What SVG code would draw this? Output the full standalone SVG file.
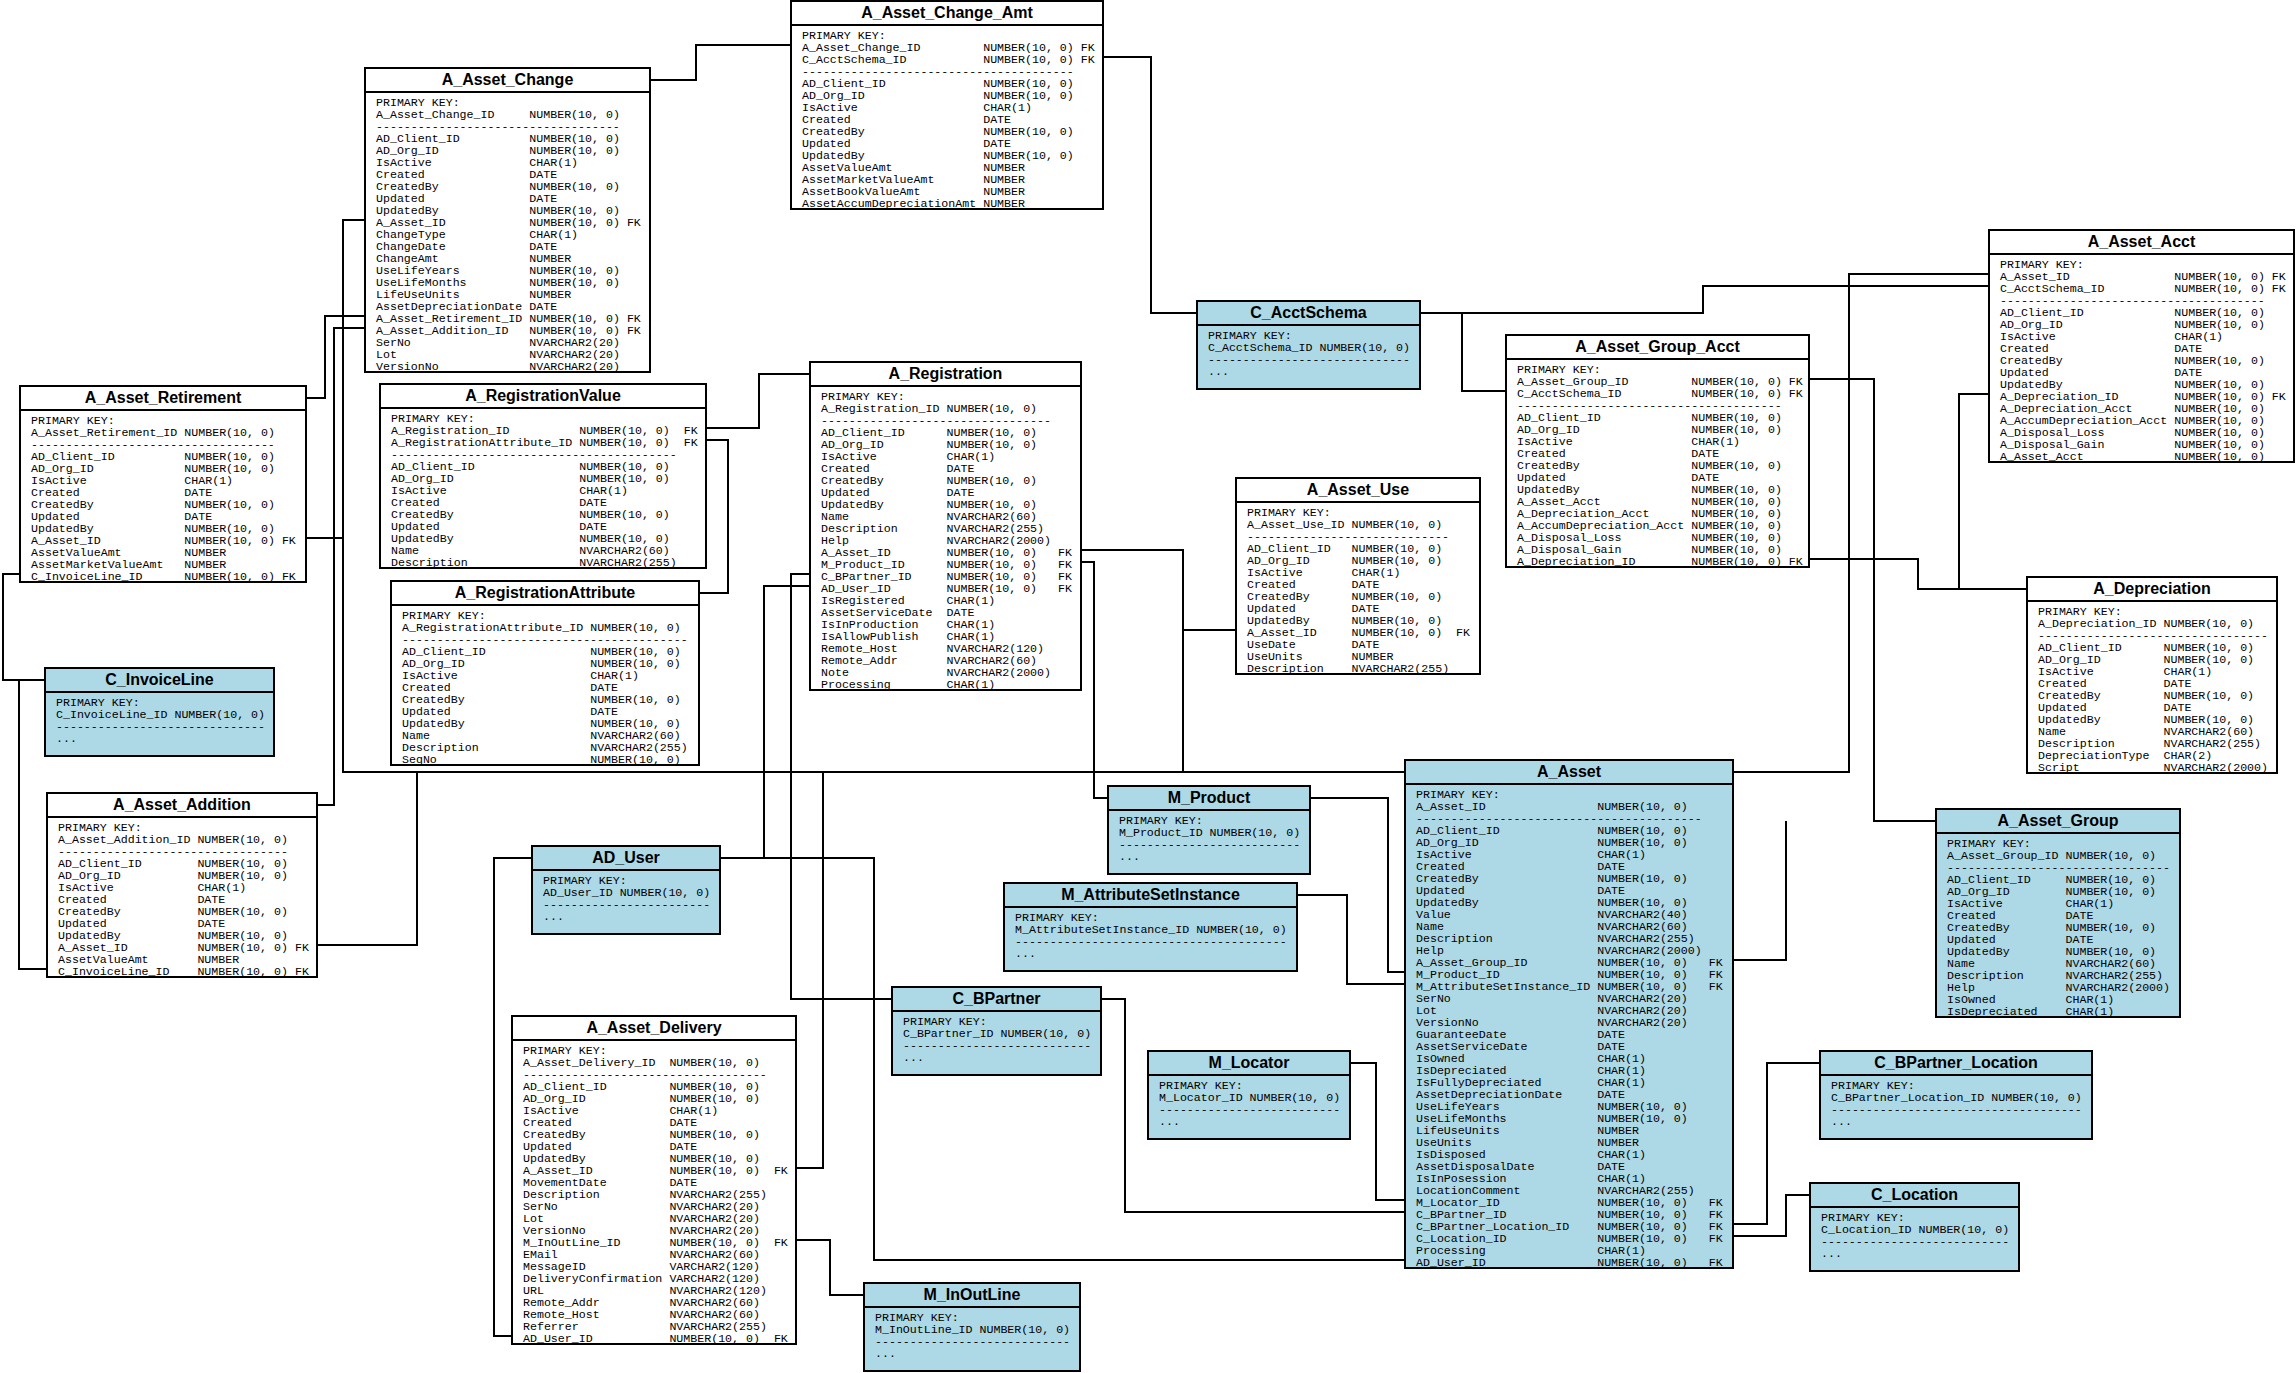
<svg xmlns="http://www.w3.org/2000/svg" width="2296" height="1373" viewBox="0 0 2296 1373">
<style>
.w{fill:#fff;stroke:#000;stroke-width:2}
.b{fill:#add8e6;stroke:#000;stroke-width:2}
.h{stroke:#000;stroke-width:2}
.t{font-family:"Liberation Sans",Arial,sans-serif;font-weight:bold;font-size:16px;text-anchor:middle;fill:#000}
.m{font-family:"Liberation Mono","Courier New",monospace;font-size:11.62px;fill:#000}
.c polyline{fill:none;stroke:#000;stroke-width:2}
</style>
<rect x="0" y="0" width="2296" height="1373" fill="#fff"/>
<g id="connectors" class="c">
<polyline points="650,80 696,80 696,45 791,45"/>
<polyline points="1103,57 1151,57 1151,313 1197,313"/>
<polyline points="1420,313 1462,313 1462,391 1506,391"/>
<polyline points="1462,313 1703,313 1703,286 1989,286"/>
<polyline points="1733,772 1849,772 1849,274 1989,274"/>
<polyline points="1989,394 1959,394 1959,589"/>
<polyline points="1809,559 1918,559 1918,589 2027,589"/>
<polyline points="1809,379 1874,379 1874,821 1936,821"/>
<polyline points="1733,960 1786,960 1786,821"/>
<polyline points="1733,1224 1767,1224 1767,1063 1820,1063"/>
<polyline points="1733,1236 1786,1236 1786,1195 1810,1195"/>
<polyline points="1405,972 1388,972 1388,798 1309,798"/>
<polyline points="1405,984 1347,984 1347,895 1296,895"/>
<polyline points="1405,1200 1376,1200 1376,1063 1349,1063"/>
<polyline points="1405,1212 1125,1212 1125,999 1101,999"/>
<polyline points="1405,1260 874,1260 874,858 720,858"/>
<polyline points="810,586 764,586 764,858"/>
<polyline points="512,1336 494,1336 494,858 532,858"/>
<polyline points="810,574 791,574 791,999 892,999"/>
<polyline points="1081,562 1094,562 1094,798 1108,798"/>
<polyline points="1081,550 1183,550 1183,772"/>
<polyline points="1236,630 1183,630"/>
<polyline points="796,1168 823,1168 823,772"/>
<polyline points="796,1240 830,1240 830,1295 864,1295"/>
<polyline points="706,428 759,428 759,374 810,374"/>
<polyline points="706,440 728,440 728,593 699,593"/>
<polyline points="365,220 343,220 343,772 1405,772"/>
<polyline points="306,538 343,538"/>
<polyline points="317,945 417,945 417,772"/>
<polyline points="306,398 325,398 325,316 365,316"/>
<polyline points="317,805 334,805 334,328 365,328"/>
<polyline points="20,574 3,574 3,680 45,680"/>
<polyline points="47,969 19,969 19,680"/>
</g>

<g id="A_Asset_Change_Amt">
<rect class="w" x="791" y="1" width="312" height="208"/>
<line class="h" x1="791" y1="25" x2="1103" y2="25"/>
<text class="t" x="947" y="18">A_Asset_Change_Amt</text>
<text class="m" x="802" y="39">PRIMARY KEY:<tspan x="802" dy="12">A_Asset_Change_ID</tspan><tspan x="802" dy="12">C_AcctSchema_ID</tspan><tspan x="802" dy="12">---------------------------------------</tspan><tspan x="802" dy="12">AD_Client_ID</tspan><tspan x="802" dy="12">AD_Org_ID</tspan><tspan x="802" dy="12">IsActive</tspan><tspan x="802" dy="12">Created</tspan><tspan x="802" dy="12">CreatedBy</tspan><tspan x="802" dy="12">Updated</tspan><tspan x="802" dy="12">UpdatedBy</tspan><tspan x="802" dy="12">AssetValueAmt</tspan><tspan x="802" dy="12">AssetMarketValueAmt</tspan><tspan x="802" dy="12">AssetBookValueAmt</tspan><tspan x="802" dy="12">AssetAccumDepreciationAmt</tspan></text>
<text class="m" x="983.2" y="51">NUMBER(10, 0)<tspan x="983.2" dy="12">NUMBER(10, 0)</tspan><tspan x="983.2" dy="24">NUMBER(10, 0)</tspan><tspan x="983.2" dy="12">NUMBER(10, 0)</tspan><tspan x="983.2" dy="12">CHAR(1)</tspan><tspan x="983.2" dy="12">DATE</tspan><tspan x="983.2" dy="12">NUMBER(10, 0)</tspan><tspan x="983.2" dy="12">DATE</tspan><tspan x="983.2" dy="12">NUMBER(10, 0)</tspan><tspan x="983.2" dy="12">NUMBER</tspan><tspan x="983.2" dy="12">NUMBER</tspan><tspan x="983.2" dy="12">NUMBER</tspan><tspan x="983.2" dy="12">NUMBER</tspan></text>
<text class="m" x="1080.8" y="51">FK<tspan x="1080.8" dy="12">FK</tspan></text>
</g>

<g id="A_Asset_Change">
<rect class="w" x="365" y="68" width="285" height="304"/>
<line class="h" x1="365" y1="92" x2="650" y2="92"/>
<text class="t" x="507.5" y="85">A_Asset_Change</text>
<text class="m" x="376" y="106">PRIMARY KEY:<tspan x="376" dy="12">A_Asset_Change_ID</tspan><tspan x="376" dy="12">-----------------------------------</tspan><tspan x="376" dy="12">AD_Client_ID</tspan><tspan x="376" dy="12">AD_Org_ID</tspan><tspan x="376" dy="12">IsActive</tspan><tspan x="376" dy="12">Created</tspan><tspan x="376" dy="12">CreatedBy</tspan><tspan x="376" dy="12">Updated</tspan><tspan x="376" dy="12">UpdatedBy</tspan><tspan x="376" dy="12">A_Asset_ID</tspan><tspan x="376" dy="12">ChangeType</tspan><tspan x="376" dy="12">ChangeDate</tspan><tspan x="376" dy="12">ChangeAmt</tspan><tspan x="376" dy="12">UseLifeYears</tspan><tspan x="376" dy="12">UseLifeMonths</tspan><tspan x="376" dy="12">LifeUseUnits</tspan><tspan x="376" dy="12">AssetDepreciationDate</tspan><tspan x="376" dy="12">A_Asset_Retirement_ID</tspan><tspan x="376" dy="12">A_Asset_Addition_ID</tspan><tspan x="376" dy="12">SerNo</tspan><tspan x="376" dy="12">Lot</tspan><tspan x="376" dy="12">VersionNo</tspan></text>
<text class="m" x="529.3" y="118">NUMBER(10, 0)<tspan x="529.3" dy="24">NUMBER(10, 0)</tspan><tspan x="529.3" dy="12">NUMBER(10, 0)</tspan><tspan x="529.3" dy="12">CHAR(1)</tspan><tspan x="529.3" dy="12">DATE</tspan><tspan x="529.3" dy="12">NUMBER(10, 0)</tspan><tspan x="529.3" dy="12">DATE</tspan><tspan x="529.3" dy="12">NUMBER(10, 0)</tspan><tspan x="529.3" dy="12">NUMBER(10, 0)</tspan><tspan x="529.3" dy="12">CHAR(1)</tspan><tspan x="529.3" dy="12">DATE</tspan><tspan x="529.3" dy="12">NUMBER</tspan><tspan x="529.3" dy="12">NUMBER(10, 0)</tspan><tspan x="529.3" dy="12">NUMBER(10, 0)</tspan><tspan x="529.3" dy="12">NUMBER</tspan><tspan x="529.3" dy="12">DATE</tspan><tspan x="529.3" dy="12">NUMBER(10, 0)</tspan><tspan x="529.3" dy="12">NUMBER(10, 0)</tspan><tspan x="529.3" dy="12">NVARCHAR2(20)</tspan><tspan x="529.3" dy="12">NVARCHAR2(20)</tspan><tspan x="529.3" dy="12">NVARCHAR2(20)</tspan></text>
<text class="m" x="626.9" y="226">FK<tspan x="626.9" y="322">FK</tspan><tspan x="626.9" y="334">FK</tspan></text>
</g>

<g id="A_Asset_Retirement">
<rect class="w" x="20" y="386" width="286" height="196"/>
<line class="h" x1="20" y1="410" x2="306" y2="410"/>
<text class="t" x="163" y="403">A_Asset_Retirement</text>
<text class="m" x="31" y="424">PRIMARY KEY:<tspan x="31" dy="12">A_Asset_Retirement_ID</tspan><tspan x="31" dy="12">-----------------------------------</tspan><tspan x="31" dy="12">AD_Client_ID</tspan><tspan x="31" dy="12">AD_Org_ID</tspan><tspan x="31" dy="12">IsActive</tspan><tspan x="31" dy="12">Created</tspan><tspan x="31" dy="12">CreatedBy</tspan><tspan x="31" dy="12">Updated</tspan><tspan x="31" dy="12">UpdatedBy</tspan><tspan x="31" dy="12">A_Asset_ID</tspan><tspan x="31" dy="12">AssetValueAmt</tspan><tspan x="31" dy="12">AssetMarketValueAmt</tspan><tspan x="31" dy="12">C_InvoiceLine_ID</tspan></text>
<text class="m" x="184.3" y="436">NUMBER(10, 0)<tspan x="184.3" dy="24">NUMBER(10, 0)</tspan><tspan x="184.3" dy="12">NUMBER(10, 0)</tspan><tspan x="184.3" dy="12">CHAR(1)</tspan><tspan x="184.3" dy="12">DATE</tspan><tspan x="184.3" dy="12">NUMBER(10, 0)</tspan><tspan x="184.3" dy="12">DATE</tspan><tspan x="184.3" dy="12">NUMBER(10, 0)</tspan><tspan x="184.3" dy="12">NUMBER(10, 0)</tspan><tspan x="184.3" dy="12">NUMBER</tspan><tspan x="184.3" dy="12">NUMBER</tspan><tspan x="184.3" dy="12">NUMBER(10, 0)</tspan></text>
<text class="m" x="281.9" y="544">FK<tspan x="281.9" y="580">FK</tspan></text>
</g>

<g id="C_InvoiceLine">
<rect class="b" x="45" y="668" width="229" height="88"/>
<line class="h" x1="45" y1="692" x2="274" y2="692"/>
<text class="t" x="159.5" y="685">C_InvoiceLine</text>
<text class="m" x="56" y="706">PRIMARY KEY:<tspan x="56" dy="12">C_InvoiceLine_ID NUMBER(10, 0)</tspan><tspan x="56" dy="12">------------------------------</tspan><tspan x="56" dy="12">...</tspan></text>
</g>

<g id="A_RegistrationValue">
<rect class="w" x="380" y="384" width="326" height="184"/>
<line class="h" x1="380" y1="408" x2="706" y2="408"/>
<text class="t" x="543" y="401">A_RegistrationValue</text>
<text class="m" x="391" y="422">PRIMARY KEY:<tspan x="391" dy="12">A_Registration_ID</tspan><tspan x="391" dy="12">A_RegistrationAttribute_ID</tspan><tspan x="391" dy="12">-----------------------------------------</tspan><tspan x="391" dy="12">AD_Client_ID</tspan><tspan x="391" dy="12">AD_Org_ID</tspan><tspan x="391" dy="12">IsActive</tspan><tspan x="391" dy="12">Created</tspan><tspan x="391" dy="12">CreatedBy</tspan><tspan x="391" dy="12">Updated</tspan><tspan x="391" dy="12">UpdatedBy</tspan><tspan x="391" dy="12">Name</tspan><tspan x="391" dy="12">Description</tspan></text>
<text class="m" x="579.2" y="434">NUMBER(10, 0)<tspan x="579.2" dy="12">NUMBER(10, 0)</tspan><tspan x="579.2" dy="24">NUMBER(10, 0)</tspan><tspan x="579.2" dy="12">NUMBER(10, 0)</tspan><tspan x="579.2" dy="12">CHAR(1)</tspan><tspan x="579.2" dy="12">DATE</tspan><tspan x="579.2" dy="12">NUMBER(10, 0)</tspan><tspan x="579.2" dy="12">DATE</tspan><tspan x="579.2" dy="12">NUMBER(10, 0)</tspan><tspan x="579.2" dy="12">NVARCHAR2(60)</tspan><tspan x="579.2" dy="12">NVARCHAR2(255)</tspan></text>
<text class="m" x="683.7" y="434">FK<tspan x="683.7" dy="12">FK</tspan></text>
</g>

<g id="A_RegistrationAttribute">
<rect class="w" x="391" y="581" width="308" height="184"/>
<line class="h" x1="391" y1="605" x2="699" y2="605"/>
<text class="t" x="545" y="598">A_RegistrationAttribute</text>
<text class="m" x="402" y="619">PRIMARY KEY:<tspan x="402" dy="12">A_RegistrationAttribute_ID</tspan><tspan x="402" dy="12">-----------------------------------------</tspan><tspan x="402" dy="12">AD_Client_ID</tspan><tspan x="402" dy="12">AD_Org_ID</tspan><tspan x="402" dy="12">IsActive</tspan><tspan x="402" dy="12">Created</tspan><tspan x="402" dy="12">CreatedBy</tspan><tspan x="402" dy="12">Updated</tspan><tspan x="402" dy="12">UpdatedBy</tspan><tspan x="402" dy="12">Name</tspan><tspan x="402" dy="12">Description</tspan><tspan x="402" dy="12">SeqNo</tspan></text>
<text class="m" x="590.2" y="631">NUMBER(10, 0)<tspan x="590.2" dy="24">NUMBER(10, 0)</tspan><tspan x="590.2" dy="12">NUMBER(10, 0)</tspan><tspan x="590.2" dy="12">CHAR(1)</tspan><tspan x="590.2" dy="12">DATE</tspan><tspan x="590.2" dy="12">NUMBER(10, 0)</tspan><tspan x="590.2" dy="12">DATE</tspan><tspan x="590.2" dy="12">NUMBER(10, 0)</tspan><tspan x="590.2" dy="12">NVARCHAR2(60)</tspan><tspan x="590.2" dy="12">NVARCHAR2(255)</tspan><tspan x="590.2" dy="12">NUMBER(10, 0)</tspan></text>
</g>

<g id="A_Registration">
<rect class="w" x="810" y="362" width="271" height="328"/>
<line class="h" x1="810" y1="386" x2="1081" y2="386"/>
<text class="t" x="945.5" y="379">A_Registration</text>
<text class="m" x="821" y="400">PRIMARY KEY:<tspan x="821" dy="12">A_Registration_ID</tspan><tspan x="821" dy="12">---------------------------------</tspan><tspan x="821" dy="12">AD_Client_ID</tspan><tspan x="821" dy="12">AD_Org_ID</tspan><tspan x="821" dy="12">IsActive</tspan><tspan x="821" dy="12">Created</tspan><tspan x="821" dy="12">CreatedBy</tspan><tspan x="821" dy="12">Updated</tspan><tspan x="821" dy="12">UpdatedBy</tspan><tspan x="821" dy="12">Name</tspan><tspan x="821" dy="12">Description</tspan><tspan x="821" dy="12">Help</tspan><tspan x="821" dy="12">A_Asset_ID</tspan><tspan x="821" dy="12">M_Product_ID</tspan><tspan x="821" dy="12">C_BPartner_ID</tspan><tspan x="821" dy="12">AD_User_ID</tspan><tspan x="821" dy="12">IsRegistered</tspan><tspan x="821" dy="12">AssetServiceDate</tspan><tspan x="821" dy="12">IsInProduction</tspan><tspan x="821" dy="12">IsAllowPublish</tspan><tspan x="821" dy="12">Remote_Host</tspan><tspan x="821" dy="12">Remote_Addr</tspan><tspan x="821" dy="12">Note</tspan><tspan x="821" dy="12">Processing</tspan></text>
<text class="m" x="946.5" y="412">NUMBER(10, 0)<tspan x="946.5" dy="24">NUMBER(10, 0)</tspan><tspan x="946.5" dy="12">NUMBER(10, 0)</tspan><tspan x="946.5" dy="12">CHAR(1)</tspan><tspan x="946.5" dy="12">DATE</tspan><tspan x="946.5" dy="12">NUMBER(10, 0)</tspan><tspan x="946.5" dy="12">DATE</tspan><tspan x="946.5" dy="12">NUMBER(10, 0)</tspan><tspan x="946.5" dy="12">NVARCHAR2(60)</tspan><tspan x="946.5" dy="12">NVARCHAR2(255)</tspan><tspan x="946.5" dy="12">NVARCHAR2(2000)</tspan><tspan x="946.5" dy="12">NUMBER(10, 0)</tspan><tspan x="946.5" dy="12">NUMBER(10, 0)</tspan><tspan x="946.5" dy="12">NUMBER(10, 0)</tspan><tspan x="946.5" dy="12">NUMBER(10, 0)</tspan><tspan x="946.5" dy="12">CHAR(1)</tspan><tspan x="946.5" dy="12">DATE</tspan><tspan x="946.5" dy="12">CHAR(1)</tspan><tspan x="946.5" dy="12">CHAR(1)</tspan><tspan x="946.5" dy="12">NVARCHAR2(120)</tspan><tspan x="946.5" dy="12">NVARCHAR2(60)</tspan><tspan x="946.5" dy="12">NVARCHAR2(2000)</tspan><tspan x="946.5" dy="12">CHAR(1)</tspan></text>
<text class="m" x="1058" y="556">FK<tspan x="1058" dy="12">FK</tspan><tspan x="1058" dy="12">FK</tspan><tspan x="1058" dy="12">FK</tspan></text>
</g>

<g id="C_AcctSchema">
<rect class="b" x="1197" y="301" width="223" height="88"/>
<line class="h" x1="1197" y1="325" x2="1420" y2="325"/>
<text class="t" x="1308.5" y="318">C_AcctSchema</text>
<text class="m" x="1208" y="339">PRIMARY KEY:<tspan x="1208" dy="12">C_AcctSchema_ID NUMBER(10, 0)</tspan><tspan x="1208" dy="12">-----------------------------</tspan><tspan x="1208" dy="12">...</tspan></text>
</g>

<g id="A_Asset_Use">
<rect class="w" x="1236" y="478" width="244" height="196"/>
<line class="h" x1="1236" y1="502" x2="1480" y2="502"/>
<text class="t" x="1358" y="495">A_Asset_Use</text>
<text class="m" x="1247" y="516">PRIMARY KEY:<tspan x="1247" dy="12">A_Asset_Use_ID</tspan><tspan x="1247" dy="12">-----------------------------</tspan><tspan x="1247" dy="12">AD_Client_ID</tspan><tspan x="1247" dy="12">AD_Org_ID</tspan><tspan x="1247" dy="12">IsActive</tspan><tspan x="1247" dy="12">Created</tspan><tspan x="1247" dy="12">CreatedBy</tspan><tspan x="1247" dy="12">Updated</tspan><tspan x="1247" dy="12">UpdatedBy</tspan><tspan x="1247" dy="12">A_Asset_ID</tspan><tspan x="1247" dy="12">UseDate</tspan><tspan x="1247" dy="12">UseUnits</tspan><tspan x="1247" dy="12">Description</tspan></text>
<text class="m" x="1351.6" y="528">NUMBER(10, 0)<tspan x="1351.6" dy="24">NUMBER(10, 0)</tspan><tspan x="1351.6" dy="12">NUMBER(10, 0)</tspan><tspan x="1351.6" dy="12">CHAR(1)</tspan><tspan x="1351.6" dy="12">DATE</tspan><tspan x="1351.6" dy="12">NUMBER(10, 0)</tspan><tspan x="1351.6" dy="12">DATE</tspan><tspan x="1351.6" dy="12">NUMBER(10, 0)</tspan><tspan x="1351.6" dy="12">NUMBER(10, 0)</tspan><tspan x="1351.6" dy="12">DATE</tspan><tspan x="1351.6" dy="12">NUMBER</tspan><tspan x="1351.6" dy="12">NVARCHAR2(255)</tspan></text>
<text class="m" x="1456.1" y="636">FK</text>
</g>

<g id="A_Asset_Group_Acct">
<rect class="w" x="1506" y="335" width="303" height="232"/>
<line class="h" x1="1506" y1="359" x2="1809" y2="359"/>
<text class="t" x="1657.5" y="352">A_Asset_Group_Acct</text>
<text class="m" x="1517" y="373">PRIMARY KEY:<tspan x="1517" dy="12">A_Asset_Group_ID</tspan><tspan x="1517" dy="12">C_AcctSchema_ID</tspan><tspan x="1517" dy="12">--------------------------------------</tspan><tspan x="1517" dy="12">AD_Client_ID</tspan><tspan x="1517" dy="12">AD_Org_ID</tspan><tspan x="1517" dy="12">IsActive</tspan><tspan x="1517" dy="12">Created</tspan><tspan x="1517" dy="12">CreatedBy</tspan><tspan x="1517" dy="12">Updated</tspan><tspan x="1517" dy="12">UpdatedBy</tspan><tspan x="1517" dy="12">A_Asset_Acct</tspan><tspan x="1517" dy="12">A_Depreciation_Acct</tspan><tspan x="1517" dy="12">A_AccumDepreciation_Acct</tspan><tspan x="1517" dy="12">A_Disposal_Loss</tspan><tspan x="1517" dy="12">A_Disposal_Gain</tspan><tspan x="1517" dy="12">A_Depreciation_ID</tspan></text>
<text class="m" x="1691.3" y="385">NUMBER(10, 0)<tspan x="1691.3" dy="12">NUMBER(10, 0)</tspan><tspan x="1691.3" dy="24">NUMBER(10, 0)</tspan><tspan x="1691.3" dy="12">NUMBER(10, 0)</tspan><tspan x="1691.3" dy="12">CHAR(1)</tspan><tspan x="1691.3" dy="12">DATE</tspan><tspan x="1691.3" dy="12">NUMBER(10, 0)</tspan><tspan x="1691.3" dy="12">DATE</tspan><tspan x="1691.3" dy="12">NUMBER(10, 0)</tspan><tspan x="1691.3" dy="12">NUMBER(10, 0)</tspan><tspan x="1691.3" dy="12">NUMBER(10, 0)</tspan><tspan x="1691.3" dy="12">NUMBER(10, 0)</tspan><tspan x="1691.3" dy="12">NUMBER(10, 0)</tspan><tspan x="1691.3" dy="12">NUMBER(10, 0)</tspan><tspan x="1691.3" dy="12">NUMBER(10, 0)</tspan></text>
<text class="m" x="1788.8" y="385">FK<tspan x="1788.8" dy="12">FK</tspan><tspan x="1788.8" y="565">FK</tspan></text>
</g>

<g id="A_Asset_Acct">
<rect class="w" x="1989" y="230" width="305" height="232"/>
<line class="h" x1="1989" y1="254" x2="2294" y2="254"/>
<text class="t" x="2141.5" y="247">A_Asset_Acct</text>
<text class="m" x="2000" y="268">PRIMARY KEY:<tspan x="2000" dy="12">A_Asset_ID</tspan><tspan x="2000" dy="12">C_AcctSchema_ID</tspan><tspan x="2000" dy="12">--------------------------------------</tspan><tspan x="2000" dy="12">AD_Client_ID</tspan><tspan x="2000" dy="12">AD_Org_ID</tspan><tspan x="2000" dy="12">IsActive</tspan><tspan x="2000" dy="12">Created</tspan><tspan x="2000" dy="12">CreatedBy</tspan><tspan x="2000" dy="12">Updated</tspan><tspan x="2000" dy="12">UpdatedBy</tspan><tspan x="2000" dy="12">A_Depreciation_ID</tspan><tspan x="2000" dy="12">A_Depreciation_Acct</tspan><tspan x="2000" dy="12">A_AccumDepreciation_Acct</tspan><tspan x="2000" dy="12">A_Disposal_Loss</tspan><tspan x="2000" dy="12">A_Disposal_Gain</tspan><tspan x="2000" dy="12">A_Asset_Acct</tspan></text>
<text class="m" x="2174.3" y="280">NUMBER(10, 0)<tspan x="2174.3" dy="12">NUMBER(10, 0)</tspan><tspan x="2174.3" dy="24">NUMBER(10, 0)</tspan><tspan x="2174.3" dy="12">NUMBER(10, 0)</tspan><tspan x="2174.3" dy="12">CHAR(1)</tspan><tspan x="2174.3" dy="12">DATE</tspan><tspan x="2174.3" dy="12">NUMBER(10, 0)</tspan><tspan x="2174.3" dy="12">DATE</tspan><tspan x="2174.3" dy="12">NUMBER(10, 0)</tspan><tspan x="2174.3" dy="12">NUMBER(10, 0)</tspan><tspan x="2174.3" dy="12">NUMBER(10, 0)</tspan><tspan x="2174.3" dy="12">NUMBER(10, 0)</tspan><tspan x="2174.3" dy="12">NUMBER(10, 0)</tspan><tspan x="2174.3" dy="12">NUMBER(10, 0)</tspan><tspan x="2174.3" dy="12">NUMBER(10, 0)</tspan></text>
<text class="m" x="2271.8" y="280">FK<tspan x="2271.8" dy="12">FK</tspan><tspan x="2271.8" y="400">FK</tspan></text>
</g>

<g id="A_Depreciation">
<rect class="w" x="2027" y="577" width="250" height="196"/>
<line class="h" x1="2027" y1="601" x2="2277" y2="601"/>
<text class="t" x="2152" y="594">A_Depreciation</text>
<text class="m" x="2038" y="615">PRIMARY KEY:<tspan x="2038" dy="12">A_Depreciation_ID</tspan><tspan x="2038" dy="12">---------------------------------</tspan><tspan x="2038" dy="12">AD_Client_ID</tspan><tspan x="2038" dy="12">AD_Org_ID</tspan><tspan x="2038" dy="12">IsActive</tspan><tspan x="2038" dy="12">Created</tspan><tspan x="2038" dy="12">CreatedBy</tspan><tspan x="2038" dy="12">Updated</tspan><tspan x="2038" dy="12">UpdatedBy</tspan><tspan x="2038" dy="12">Name</tspan><tspan x="2038" dy="12">Description</tspan><tspan x="2038" dy="12">DepreciationType</tspan><tspan x="2038" dy="12">Script</tspan></text>
<text class="m" x="2163.5" y="627">NUMBER(10, 0)<tspan x="2163.5" dy="24">NUMBER(10, 0)</tspan><tspan x="2163.5" dy="12">NUMBER(10, 0)</tspan><tspan x="2163.5" dy="12">CHAR(1)</tspan><tspan x="2163.5" dy="12">DATE</tspan><tspan x="2163.5" dy="12">NUMBER(10, 0)</tspan><tspan x="2163.5" dy="12">DATE</tspan><tspan x="2163.5" dy="12">NUMBER(10, 0)</tspan><tspan x="2163.5" dy="12">NVARCHAR2(60)</tspan><tspan x="2163.5" dy="12">NVARCHAR2(255)</tspan><tspan x="2163.5" dy="12">CHAR(2)</tspan><tspan x="2163.5" dy="12">NVARCHAR2(2000)</tspan></text>
</g>

<g id="A_Asset_Group">
<rect class="b" x="1936" y="809" width="244" height="208"/>
<line class="h" x1="1936" y1="833" x2="2180" y2="833"/>
<text class="t" x="2058" y="826">A_Asset_Group</text>
<text class="m" x="1947" y="847">PRIMARY KEY:<tspan x="1947" dy="12">A_Asset_Group_ID</tspan><tspan x="1947" dy="12">--------------------------------</tspan><tspan x="1947" dy="12">AD_Client_ID</tspan><tspan x="1947" dy="12">AD_Org_ID</tspan><tspan x="1947" dy="12">IsActive</tspan><tspan x="1947" dy="12">Created</tspan><tspan x="1947" dy="12">CreatedBy</tspan><tspan x="1947" dy="12">Updated</tspan><tspan x="1947" dy="12">UpdatedBy</tspan><tspan x="1947" dy="12">Name</tspan><tspan x="1947" dy="12">Description</tspan><tspan x="1947" dy="12">Help</tspan><tspan x="1947" dy="12">IsOwned</tspan><tspan x="1947" dy="12">IsDepreciated</tspan></text>
<text class="m" x="2065.5" y="859">NUMBER(10, 0)<tspan x="2065.5" dy="24">NUMBER(10, 0)</tspan><tspan x="2065.5" dy="12">NUMBER(10, 0)</tspan><tspan x="2065.5" dy="12">CHAR(1)</tspan><tspan x="2065.5" dy="12">DATE</tspan><tspan x="2065.5" dy="12">NUMBER(10, 0)</tspan><tspan x="2065.5" dy="12">DATE</tspan><tspan x="2065.5" dy="12">NUMBER(10, 0)</tspan><tspan x="2065.5" dy="12">NVARCHAR2(60)</tspan><tspan x="2065.5" dy="12">NVARCHAR2(255)</tspan><tspan x="2065.5" dy="12">NVARCHAR2(2000)</tspan><tspan x="2065.5" dy="12">CHAR(1)</tspan><tspan x="2065.5" dy="12">CHAR(1)</tspan></text>
</g>

<g id="A_Asset">
<rect class="b" x="1405" y="760" width="328" height="508"/>
<line class="h" x1="1405" y1="784" x2="1733" y2="784"/>
<text class="t" x="1569" y="777">A_Asset</text>
<text class="m" x="1416" y="798">PRIMARY KEY:<tspan x="1416" dy="12">A_Asset_ID</tspan><tspan x="1416" dy="12">-----------------------------------------</tspan><tspan x="1416" dy="12">AD_Client_ID</tspan><tspan x="1416" dy="12">AD_Org_ID</tspan><tspan x="1416" dy="12">IsActive</tspan><tspan x="1416" dy="12">Created</tspan><tspan x="1416" dy="12">CreatedBy</tspan><tspan x="1416" dy="12">Updated</tspan><tspan x="1416" dy="12">UpdatedBy</tspan><tspan x="1416" dy="12">Value</tspan><tspan x="1416" dy="12">Name</tspan><tspan x="1416" dy="12">Description</tspan><tspan x="1416" dy="12">Help</tspan><tspan x="1416" dy="12">A_Asset_Group_ID</tspan><tspan x="1416" dy="12">M_Product_ID</tspan><tspan x="1416" dy="12">M_AttributeSetInstance_ID</tspan><tspan x="1416" dy="12">SerNo</tspan><tspan x="1416" dy="12">Lot</tspan><tspan x="1416" dy="12">VersionNo</tspan><tspan x="1416" dy="12">GuaranteeDate</tspan><tspan x="1416" dy="12">AssetServiceDate</tspan><tspan x="1416" dy="12">IsOwned</tspan><tspan x="1416" dy="12">IsDepreciated</tspan><tspan x="1416" dy="12">IsFullyDepreciated</tspan><tspan x="1416" dy="12">AssetDepreciationDate</tspan><tspan x="1416" dy="12">UseLifeYears</tspan><tspan x="1416" dy="12">UseLifeMonths</tspan><tspan x="1416" dy="12">LifeUseUnits</tspan><tspan x="1416" dy="12">UseUnits</tspan><tspan x="1416" dy="12">IsDisposed</tspan><tspan x="1416" dy="12">AssetDisposalDate</tspan><tspan x="1416" dy="12">IsInPosession</tspan><tspan x="1416" dy="12">LocationComment</tspan><tspan x="1416" dy="12">M_Locator_ID</tspan><tspan x="1416" dy="12">C_BPartner_ID</tspan><tspan x="1416" dy="12">C_BPartner_Location_ID</tspan><tspan x="1416" dy="12">C_Location_ID</tspan><tspan x="1416" dy="12">Processing</tspan><tspan x="1416" dy="12">AD_User_ID</tspan></text>
<text class="m" x="1597.2" y="810">NUMBER(10, 0)<tspan x="1597.2" dy="24">NUMBER(10, 0)</tspan><tspan x="1597.2" dy="12">NUMBER(10, 0)</tspan><tspan x="1597.2" dy="12">CHAR(1)</tspan><tspan x="1597.2" dy="12">DATE</tspan><tspan x="1597.2" dy="12">NUMBER(10, 0)</tspan><tspan x="1597.2" dy="12">DATE</tspan><tspan x="1597.2" dy="12">NUMBER(10, 0)</tspan><tspan x="1597.2" dy="12">NVARCHAR2(40)</tspan><tspan x="1597.2" dy="12">NVARCHAR2(60)</tspan><tspan x="1597.2" dy="12">NVARCHAR2(255)</tspan><tspan x="1597.2" dy="12">NVARCHAR2(2000)</tspan><tspan x="1597.2" dy="12">NUMBER(10, 0)</tspan><tspan x="1597.2" dy="12">NUMBER(10, 0)</tspan><tspan x="1597.2" dy="12">NUMBER(10, 0)</tspan><tspan x="1597.2" dy="12">NVARCHAR2(20)</tspan><tspan x="1597.2" dy="12">NVARCHAR2(20)</tspan><tspan x="1597.2" dy="12">NVARCHAR2(20)</tspan><tspan x="1597.2" dy="12">DATE</tspan><tspan x="1597.2" dy="12">DATE</tspan><tspan x="1597.2" dy="12">CHAR(1)</tspan><tspan x="1597.2" dy="12">CHAR(1)</tspan><tspan x="1597.2" dy="12">CHAR(1)</tspan><tspan x="1597.2" dy="12">DATE</tspan><tspan x="1597.2" dy="12">NUMBER(10, 0)</tspan><tspan x="1597.2" dy="12">NUMBER(10, 0)</tspan><tspan x="1597.2" dy="12">NUMBER</tspan><tspan x="1597.2" dy="12">NUMBER</tspan><tspan x="1597.2" dy="12">CHAR(1)</tspan><tspan x="1597.2" dy="12">DATE</tspan><tspan x="1597.2" dy="12">CHAR(1)</tspan><tspan x="1597.2" dy="12">NVARCHAR2(255)</tspan><tspan x="1597.2" dy="12">NUMBER(10, 0)</tspan><tspan x="1597.2" dy="12">NUMBER(10, 0)</tspan><tspan x="1597.2" dy="12">NUMBER(10, 0)</tspan><tspan x="1597.2" dy="12">NUMBER(10, 0)</tspan><tspan x="1597.2" dy="12">CHAR(1)</tspan><tspan x="1597.2" dy="12">NUMBER(10, 0)</tspan></text>
<text class="m" x="1708.7" y="966">FK<tspan x="1708.7" dy="12">FK</tspan><tspan x="1708.7" dy="12">FK</tspan><tspan x="1708.7" y="1206">FK</tspan><tspan x="1708.7" dy="12">FK</tspan><tspan x="1708.7" dy="12">FK</tspan><tspan x="1708.7" dy="12">FK</tspan><tspan x="1708.7" y="1266">FK</tspan></text>
</g>

<g id="A_Asset_Addition">
<rect class="w" x="47" y="793" width="270" height="184"/>
<line class="h" x1="47" y1="817" x2="317" y2="817"/>
<text class="t" x="182" y="810">A_Asset_Addition</text>
<text class="m" x="58" y="831">PRIMARY KEY:<tspan x="58" dy="12">A_Asset_Addition_ID</tspan><tspan x="58" dy="12">---------------------------------</tspan><tspan x="58" dy="12">AD_Client_ID</tspan><tspan x="58" dy="12">AD_Org_ID</tspan><tspan x="58" dy="12">IsActive</tspan><tspan x="58" dy="12">Created</tspan><tspan x="58" dy="12">CreatedBy</tspan><tspan x="58" dy="12">Updated</tspan><tspan x="58" dy="12">UpdatedBy</tspan><tspan x="58" dy="12">A_Asset_ID</tspan><tspan x="58" dy="12">AssetValueAmt</tspan><tspan x="58" dy="12">C_InvoiceLine_ID</tspan></text>
<text class="m" x="197.4" y="843">NUMBER(10, 0)<tspan x="197.4" dy="24">NUMBER(10, 0)</tspan><tspan x="197.4" dy="12">NUMBER(10, 0)</tspan><tspan x="197.4" dy="12">CHAR(1)</tspan><tspan x="197.4" dy="12">DATE</tspan><tspan x="197.4" dy="12">NUMBER(10, 0)</tspan><tspan x="197.4" dy="12">DATE</tspan><tspan x="197.4" dy="12">NUMBER(10, 0)</tspan><tspan x="197.4" dy="12">NUMBER(10, 0)</tspan><tspan x="197.4" dy="12">NUMBER</tspan><tspan x="197.4" dy="12">NUMBER(10, 0)</tspan></text>
<text class="m" x="295" y="951">FK<tspan x="295" y="975">FK</tspan></text>
</g>

<g id="A_Asset_Delivery">
<rect class="w" x="512" y="1016" width="284" height="328"/>
<line class="h" x1="512" y1="1040" x2="796" y2="1040"/>
<text class="t" x="654" y="1033">A_Asset_Delivery</text>
<text class="m" x="523" y="1054">PRIMARY KEY:<tspan x="523" dy="12">A_Asset_Delivery_ID</tspan><tspan x="523" dy="12">-----------------------------------</tspan><tspan x="523" dy="12">AD_Client_ID</tspan><tspan x="523" dy="12">AD_Org_ID</tspan><tspan x="523" dy="12">IsActive</tspan><tspan x="523" dy="12">Created</tspan><tspan x="523" dy="12">CreatedBy</tspan><tspan x="523" dy="12">Updated</tspan><tspan x="523" dy="12">UpdatedBy</tspan><tspan x="523" dy="12">A_Asset_ID</tspan><tspan x="523" dy="12">MovementDate</tspan><tspan x="523" dy="12">Description</tspan><tspan x="523" dy="12">SerNo</tspan><tspan x="523" dy="12">Lot</tspan><tspan x="523" dy="12">VersionNo</tspan><tspan x="523" dy="12">M_InOutLine_ID</tspan><tspan x="523" dy="12">EMail</tspan><tspan x="523" dy="12">MessageID</tspan><tspan x="523" dy="12">DeliveryConfirmation</tspan><tspan x="523" dy="12">URL</tspan><tspan x="523" dy="12">Remote_Addr</tspan><tspan x="523" dy="12">Remote_Host</tspan><tspan x="523" dy="12">Referrer</tspan><tspan x="523" dy="12">AD_User_ID</tspan></text>
<text class="m" x="669.4" y="1066">NUMBER(10, 0)<tspan x="669.4" dy="24">NUMBER(10, 0)</tspan><tspan x="669.4" dy="12">NUMBER(10, 0)</tspan><tspan x="669.4" dy="12">CHAR(1)</tspan><tspan x="669.4" dy="12">DATE</tspan><tspan x="669.4" dy="12">NUMBER(10, 0)</tspan><tspan x="669.4" dy="12">DATE</tspan><tspan x="669.4" dy="12">NUMBER(10, 0)</tspan><tspan x="669.4" dy="12">NUMBER(10, 0)</tspan><tspan x="669.4" dy="12">DATE</tspan><tspan x="669.4" dy="12">NVARCHAR2(255)</tspan><tspan x="669.4" dy="12">NVARCHAR2(20)</tspan><tspan x="669.4" dy="12">NVARCHAR2(20)</tspan><tspan x="669.4" dy="12">NVARCHAR2(20)</tspan><tspan x="669.4" dy="12">NUMBER(10, 0)</tspan><tspan x="669.4" dy="12">NVARCHAR2(60)</tspan><tspan x="669.4" dy="12">VARCHAR2(120)</tspan><tspan x="669.4" dy="12">VARCHAR2(120)</tspan><tspan x="669.4" dy="12">NVARCHAR2(120)</tspan><tspan x="669.4" dy="12">NVARCHAR2(60)</tspan><tspan x="669.4" dy="12">NVARCHAR2(60)</tspan><tspan x="669.4" dy="12">NVARCHAR2(255)</tspan><tspan x="669.4" dy="12">NUMBER(10, 0)</tspan></text>
<text class="m" x="773.9" y="1174">FK<tspan x="773.9" y="1246">FK</tspan><tspan x="773.9" y="1342">FK</tspan></text>
</g>

<g id="AD_User">
<rect class="b" x="532" y="846" width="188" height="88"/>
<line class="h" x1="532" y1="870" x2="720" y2="870"/>
<text class="t" x="626" y="863">AD_User</text>
<text class="m" x="543" y="884">PRIMARY KEY:<tspan x="543" dy="12">AD_User_ID NUMBER(10, 0)</tspan><tspan x="543" dy="12">------------------------</tspan><tspan x="543" dy="12">...</tspan></text>
</g>

<g id="M_Product">
<rect class="b" x="1108" y="786" width="202" height="88"/>
<line class="h" x1="1108" y1="810" x2="1310" y2="810"/>
<text class="t" x="1209" y="803">M_Product</text>
<text class="m" x="1119" y="824">PRIMARY KEY:<tspan x="1119" dy="12">M_Product_ID NUMBER(10, 0)</tspan><tspan x="1119" dy="12">--------------------------</tspan><tspan x="1119" dy="12">...</tspan></text>
</g>

<g id="M_AttributeSetInstance">
<rect class="b" x="1004" y="883" width="293" height="88"/>
<line class="h" x1="1004" y1="907" x2="1297" y2="907"/>
<text class="t" x="1150.5" y="900">M_AttributeSetInstance</text>
<text class="m" x="1015" y="921">PRIMARY KEY:<tspan x="1015" dy="12">M_AttributeSetInstance_ID NUMBER(10, 0)</tspan><tspan x="1015" dy="12">---------------------------------------</tspan><tspan x="1015" dy="12">...</tspan></text>
</g>

<g id="C_BPartner">
<rect class="b" x="892" y="987" width="209" height="88"/>
<line class="h" x1="892" y1="1011" x2="1101" y2="1011"/>
<text class="t" x="996.5" y="1004">C_BPartner</text>
<text class="m" x="903" y="1025">PRIMARY KEY:<tspan x="903" dy="12">C_BPartner_ID NUMBER(10, 0)</tspan><tspan x="903" dy="12">---------------------------</tspan><tspan x="903" dy="12">...</tspan></text>
</g>

<g id="M_Locator">
<rect class="b" x="1148" y="1051" width="202" height="88"/>
<line class="h" x1="1148" y1="1075" x2="1350" y2="1075"/>
<text class="t" x="1249" y="1068">M_Locator</text>
<text class="m" x="1159" y="1089">PRIMARY KEY:<tspan x="1159" dy="12">M_Locator_ID NUMBER(10, 0)</tspan><tspan x="1159" dy="12">--------------------------</tspan><tspan x="1159" dy="12">...</tspan></text>
</g>

<g id="M_InOutLine">
<rect class="b" x="864" y="1283" width="216" height="88"/>
<line class="h" x1="864" y1="1307" x2="1080" y2="1307"/>
<text class="t" x="972" y="1300">M_InOutLine</text>
<text class="m" x="875" y="1321">PRIMARY KEY:<tspan x="875" dy="12">M_InOutLine_ID NUMBER(10, 0)</tspan><tspan x="875" dy="12">----------------------------</tspan><tspan x="875" dy="12">...</tspan></text>
</g>

<g id="C_BPartner_Location">
<rect class="b" x="1820" y="1051" width="272" height="88"/>
<line class="h" x1="1820" y1="1075" x2="2092" y2="1075"/>
<text class="t" x="1956" y="1068">C_BPartner_Location</text>
<text class="m" x="1831" y="1089">PRIMARY KEY:<tspan x="1831" dy="12">C_BPartner_Location_ID NUMBER(10, 0)</tspan><tspan x="1831" dy="12">------------------------------------</tspan><tspan x="1831" dy="12">...</tspan></text>
</g>

<g id="C_Location">
<rect class="b" x="1810" y="1183" width="209" height="88"/>
<line class="h" x1="1810" y1="1207" x2="2019" y2="1207"/>
<text class="t" x="1914.5" y="1200">C_Location</text>
<text class="m" x="1821" y="1221">PRIMARY KEY:<tspan x="1821" dy="12">C_Location_ID NUMBER(10, 0)</tspan><tspan x="1821" dy="12">---------------------------</tspan><tspan x="1821" dy="12">...</tspan></text>
</g>
</svg>
